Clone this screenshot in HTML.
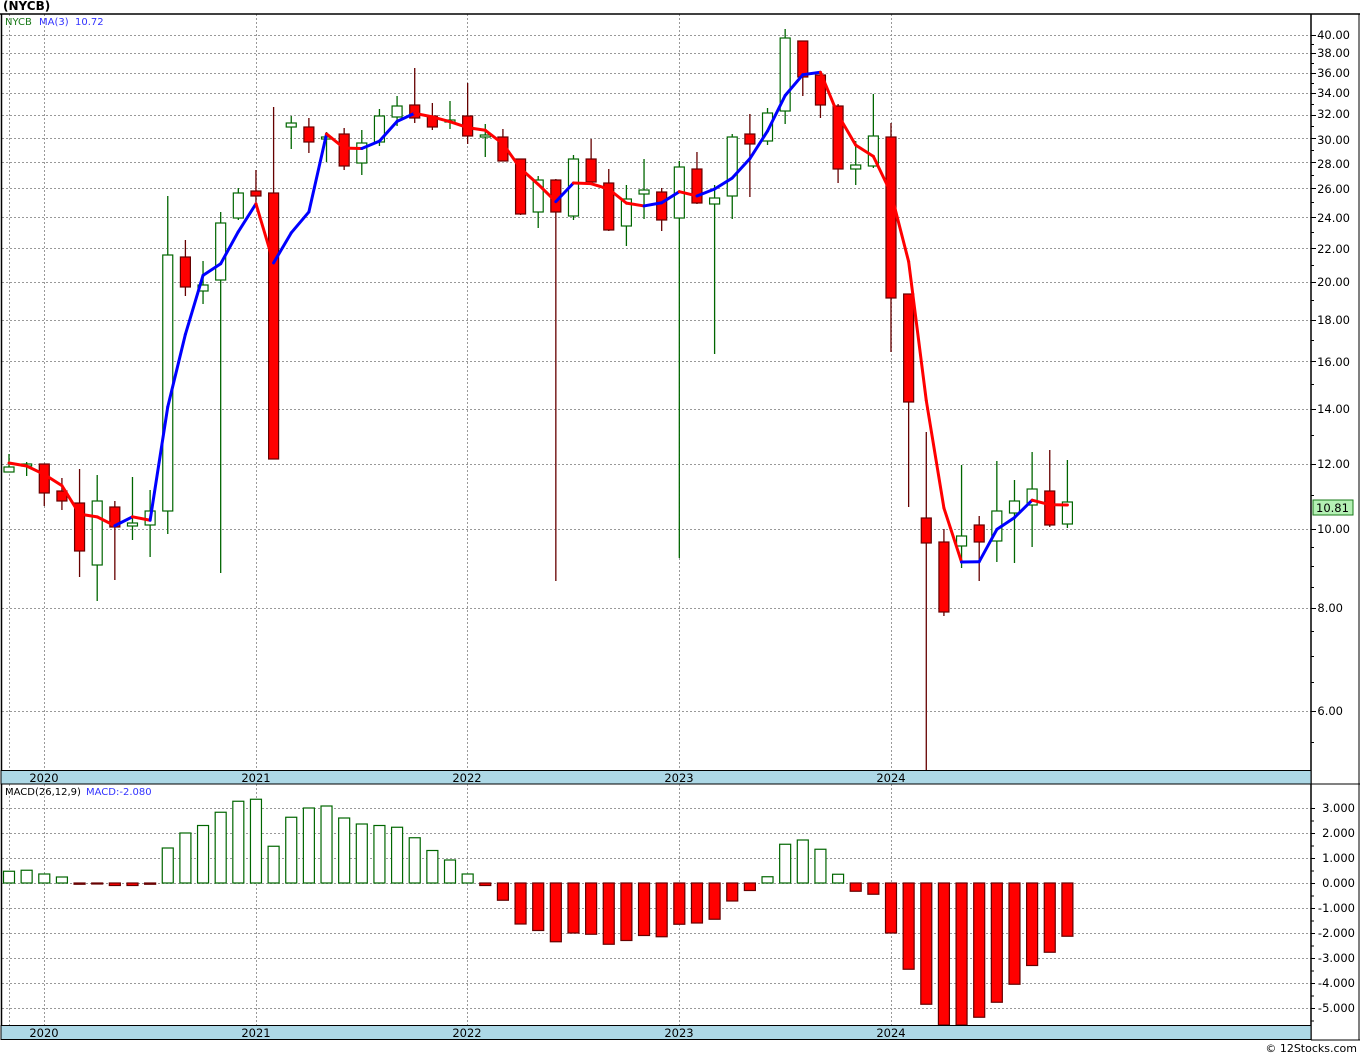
<!DOCTYPE html>
<html><head><meta charset="utf-8">
<style>
html,body{margin:0;padding:0;background:#fff;}
svg{display:block;font-family:"DejaVu Sans","Liberation Sans",sans-serif;}
</style></head>
<body>
<svg id="c" width="1360" height="1056" viewBox="0 0 1360 1056" xmlns="http://www.w3.org/2000/svg">
<rect width="1360" height="1056" fill="#fff"/>
<g id="grid"></g>
<g id="bars"></g>
<line x1="0" y1="14" x2="1360" y2="14" stroke="#000" stroke-width="1.5"/>
<line x1="1.5" y1="14" x2="1.5" y2="1040" stroke="#000" stroke-width="1.5"/>
<line x1="1311" y1="14" x2="1311" y2="1040" stroke="#000" stroke-width="1.5"/>
<rect x="1" y="770.5" width="1310" height="13.5" fill="#add8e6" stroke="#000" stroke-width="1"/>
<rect x="1" y="1025.5" width="1310" height="14" fill="#add8e6" stroke="#000" stroke-width="1"/>
<line x1="1311" y1="784" x2="1360" y2="784" stroke="#000" stroke-width="1"/>
<line x1="1311" y1="1040" x2="1360" y2="1040" stroke="#000" stroke-width="1"/>
<line x1="1359" y1="14" x2="1359" y2="1040" stroke="#000" stroke-width="1"/>
<g font-size="11.5" fill="#000" text-anchor="middle">
<text x="44" y="782">2020</text><text x="256" y="782">2021</text><text x="467" y="782">2022</text><text x="679" y="782">2023</text><text x="891" y="782">2024</text>
<text x="44" y="1037">2020</text><text x="256" y="1037">2021</text><text x="467" y="1037">2022</text><text x="679" y="1037">2023</text><text x="891" y="1037">2024</text>
</g>
<text x="3" y="10" font-size="12" font-weight="bold" fill="#000">(NYCB)</text>
<text x="5" y="25" font-size="10" fill="#1a7a1a">NYCB</text>
<text x="39" y="25" font-size="10" fill="#3333ff">MA(3)</text>
<text x="75" y="25" font-size="10" fill="#3333ff">10.72</text>
<text x="5" y="795" font-size="10" fill="#000">MACD(26,12,9)</text>
<text x="86" y="795" font-size="10" fill="#3333ff">MACD:-2.080</text>
<g font-size="11.5" fill="#000" text-anchor="end">
<text x="1350" y="39">40.00</text><text x="1350" y="57">38.00</text><text x="1350" y="77">36.00</text><text x="1350" y="97">34.00</text><text x="1350" y="118">32.00</text><text x="1350" y="144">30.00</text><text x="1350" y="168">28.00</text><text x="1350" y="193">26.00</text><text x="1350" y="222">24.00</text><text x="1350" y="253">22.00</text><text x="1350" y="286">20.00</text><text x="1350" y="324">18.00</text><text x="1350" y="366">16.00</text><text x="1350" y="413">14.00</text><text x="1350" y="468">12.00</text><text x="1350" y="533">10.00</text><text x="1343" y="612">8.00</text><text x="1343" y="715">6.00</text>
<text x="1355" y="812">3.000</text><text x="1355" y="837">2.000</text><text x="1355" y="862">1.000</text><text x="1355" y="887">0.000</text><text x="1355" y="912">-1.000</text><text x="1355" y="937">-2.000</text><text x="1355" y="962">-3.000</text><text x="1355" y="987">-4.000</text><text x="1355" y="1012">-5.000</text>
</g>
<rect x="1313" y="500" width="40" height="15" fill="#b4f0b4" stroke="#1a7a1a" stroke-width="1"/>
<text x="1316" y="512" font-size="11.5" fill="#000">10.81</text>
<text x="1357" y="1052" font-size="11" fill="#000" text-anchor="end">© 12Stocks.com</text>
</svg>
<script>
(function(){
var NS="http://www.w3.org/2000/svg";
var g=document.getElementById('grid'),b=document.getElementById('bars');
function el(p,t,a){var e=document.createElementNS(NS,t);for(var k in a)e.setAttribute(k,a[k]);p.appendChild(e);return e;}
function py(p){return 35+356.3*Math.log(40/p);}
function yp(y){return 40*Math.exp(-(y-35)/356.3);}
var prices=[40,38,36,34,32,30,28,26,24,22,20,18,16,14,12,10,8,6];
prices.forEach(function(p){var y=Math.round(py(p))+0.5;
 el(g,'line',{x1:2,y1:y,x2:1311,y2:y,stroke:'#999','stroke-dasharray':'2,2','stroke-width':1});
 el(g,'line',{x1:1311,y1:y,x2:1316,y2:y,stroke:'#000','stroke-width':1});});
for(var p=5;p<=40;p+=(p<10?0.5:1)){var y=Math.round(py(p))+0.5;if(y>770)continue;el(g,'line',{x1:1311,y1:y,x2:1314,y2:y,stroke:'#000','stroke-width':1});}
for(var v=-5;v<=3;v++){var y=883-25*v+0.5;el(g,'line',{x1:2,y1:y,x2:1311,y2:y,stroke:'#999','stroke-dasharray':'2,2','stroke-width':1});el(g,'line',{x1:1311,y1:y,x2:1315,y2:y,stroke:'#000'});
 el(g,'line',{x1:1311,y1:y+12.5,x2:1314,y2:y+12.5,stroke:'#000'});}
[9,44,256,467,679,891].forEach(function(x){
 el(g,'line',{x1:x+0.5,y1:14,x2:x+0.5,y2:770,stroke:'#999','stroke-dasharray':'2,2'});
 el(g,'line',{x1:x+0.5,y1:784,x2:x+0.5,y2:1025,stroke:'#999','stroke-dasharray':'2,2'});});
var C=[[467,472,454,472,1],[464,466,462,476,1],[464,493,464,506,0],[491,501,478,510,0],[503,551,469,577,0],[501,565,475,601,1],[507,527,501,580,0],[523,526,477,540,1],[511,525,490,557,1],[255,511,196,534,1],
[257,287,240,296,0],[285,291,261,304,1],[223,280,212,573,1],[193,218,188,220,1],[191,196,170,202,0],[193,459,107,459,0],[123,127,116,149,1],[127,142,118,153,0],[137,139,132,162,1],[134,166,128,170,0],
[143,163,130,175,1],[116,142,109,146,1],[106,117,96,126,1],[105,118,68,123,0],[116,127,103,130,0],[120,122,101,129,1],[116,136,83,144,0],[135,137,124,157,1],[137,161,129,161,0],[159,214,159,215,0],
[180,212,176,228,1],[180,212,179,581,0],[159,216,155,220,1],[159,182,139,183,0],[183,230,169,231,0],[199,226,185,246,1],[190,194,159,219,1],[192,220,188,231,0],[167,218,161,558,1],[169,203,152,204,0],
[198,204,185,354,1],[137,196,134,219,1],[134,144,114,197,0],[113,141,108,145,1],[38,111,29,124,1],[41,77,41,96,0],[75,105,72,118,0],[106,169,104,183,0],[165,169,141,185,1],[136,166,94,168,1],
[137,298,123,352,0],[294,402,294,507,0],[518,543,432,770,0],[542,612,529,616,0],[536,546,465,568,1],[525,542,516,581,0],[511,541,461,562,1],[501,513,480,563,1],[489,505,452,547,1],[491,525,450,527,0],[502,524,460,528,1]];
function X(i){return 9+17.64*i;}
var closes=[];
C.forEach(function(c,i){var x=X(i);var up=c[4];var col=up?'#006600':'#660000';
 el(b,'line',{x1:x,y1:c[2],x2:x,y2:c[3],stroke:col,'stroke-width':1.3});
 el(b,'rect',{x:x-5,y:c[0],width:10,height:Math.max(1,c[1]-c[0]),fill:up?'#fff':'#ff0000',stroke:col,'stroke-width':1.2});
 closes.push(yp(up?c[0]:c[1]));});
var ma=[];for(var i=0;i<closes.length;i++){var s=0,n=0;for(var j=Math.max(0,i-2);j<=i;j++){s+=closes[j];n++;}ma.push(s/n);}
ma[0]=yp(463);ma[1]=yp(466);
for(var i=1;i<ma.length;i++){el(b,'line',{x1:X(i-1),y1:py(ma[i-1]),x2:X(i),y2:py(ma[i]),stroke:ma[i]<ma[i-1]?'#ff0000':'#0000ff','stroke-width':3,'stroke-linecap':'round'});}
var M=[0.47,0.51,0.36,0.24,-0.05,-0.02,-0.1,-0.1,-0.05,1.4,2.0,2.3,2.83,3.27,3.35,1.47,2.63,3.0,3.08,2.6,2.36,2.3,2.23,1.81,1.3,0.92,0.36,-0.1,-0.69,-1.64,-1.9,-2.35,-2.0,-2.05,-2.45,-2.3,-2.1,-2.15,-1.65,-1.6,-1.45,-0.72,-0.3,0.25,1.55,1.72,1.35,0.35,-0.33,-0.45,-2.0,-3.45,-4.85,-5.7,-5.7,-5.37,-4.77,-4.05,-3.3,-2.77,-2.13];
M.forEach(function(v,i){var x=X(i);var h=Math.abs(v)*25;var y=v>=0?883-h:883;if(y+h>1025)h=1025-y;
 el(b,'rect',{x:x-5.5,y:y,width:11,height:Math.max(1,h),fill:v>=0?'#fff':'#ff0000',stroke:v>=0?'#006600':'#660000','stroke-width':1.2});});
})();
</script>
</body></html>
